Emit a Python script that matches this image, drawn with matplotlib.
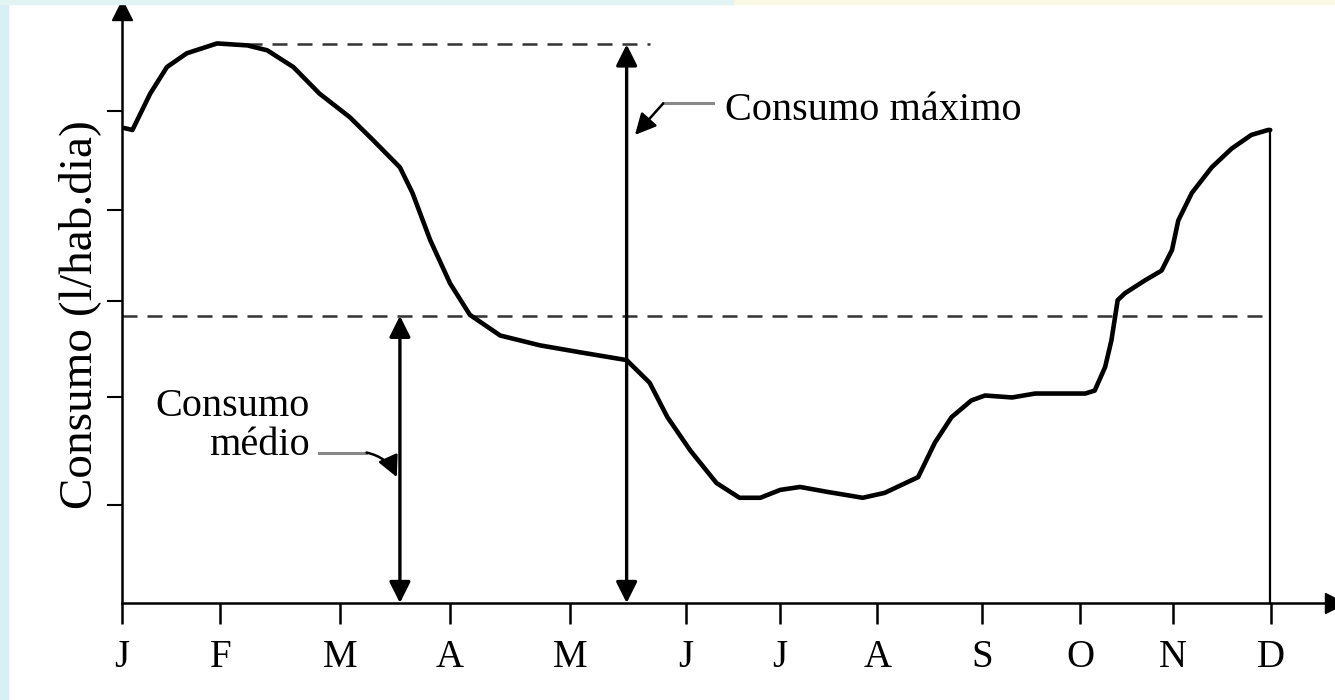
import matplotlib
matplotlib.use("Agg")
import matplotlib.pyplot as plt
from matplotlib.patches import Rectangle

plt.rcParams["font.family"] = ["Liberation Serif", "DejaVu Serif"]

# month tick positions (in month units) and labels
month_pos = [0.0, 0.94, 2.09, 3.14, 4.29, 5.40, 6.30, 7.23, 8.23, 9.17, 10.06, 11.0]
month_labels = ["J", "F", "M", "A", "M", "J", "J", "A", "S", "O", "N", "D"]
y_ticks = [1.0, 2.09, 3.07, 4.0, 5.0]

# consumption curve
curve_x = [0.02, 0.10, 0.27, 0.43, 0.62, 0.91, 1.20, 1.39, 1.64, 1.89, 2.18, 2.40,
           2.66, 2.78, 2.95, 3.14, 3.33, 3.62, 4.00, 4.38, 4.83, 5.05, 5.22, 5.44,
           5.69, 5.91, 6.11, 6.30, 6.49, 6.75, 7.09, 7.30, 7.62, 7.78, 7.94, 8.13,
           8.26, 8.52, 8.74, 9.22, 9.31, 9.41, 9.47, 9.53, 9.60, 9.79, 9.95, 10.05,
           10.11, 10.24, 10.43, 10.62, 10.81, 10.97, 10.99]
curve_y = [4.83, 4.81, 5.18, 5.45, 5.59, 5.69, 5.67, 5.62, 5.45, 5.18, 4.94, 4.71,
           4.43, 4.17, 3.69, 3.25, 2.93, 2.72, 2.62, 2.55, 2.47, 2.24, 1.89, 1.55,
           1.22, 1.07, 1.07, 1.15, 1.18, 1.13, 1.07, 1.12, 1.28, 1.63, 1.89, 2.06,
           2.11, 2.09, 2.13, 2.13, 2.16, 2.40, 2.67, 3.08, 3.15, 3.28, 3.38, 3.59,
           3.89, 4.17, 4.43, 4.62, 4.76, 4.81, 4.81]

mean_value = 2.92
max_value = 5.68
max_month = 4.83
mean_month = 2.66

fig = plt.figure(figsize=(13.35, 7.0), dpi=100)
fig.patches.append(Rectangle((0, 0), 8 / 1335, 1, transform=fig.transFigure,
                             color="#d8eff6", zorder=0))
fig.patches.append(Rectangle((0, 1 - 4 / 700), 0.55, 4 / 700, transform=fig.transFigure,
                             color="#e2f3f3", zorder=0))
fig.patches.append(Rectangle((0.55, 1 - 4 / 700), 0.45, 4 / 700, transform=fig.transFigure,
                             color="#f8f8e4", zorder=0))

ax = fig.add_axes([122 / 1335, 1 - 603 / 700, 1 - 122 / 1335, 593 / 700])
ax.set_xlim(0, 11.61)
ax.set_ylim(0, 6.03)
ax.patch.set_alpha(0)

for s in ["top", "right"]:
    ax.spines[s].set_visible(False)
ax.spines["left"].set_linewidth(1.8)
ax.spines["bottom"].set_linewidth(1.8)
ax.plot(1, 0, ">k", ms=14, transform=ax.transAxes, clip_on=False)
ax.plot(0, 1, "^k", ms=14, transform=ax.transAxes, clip_on=False)

ax.set_xticks(month_pos)
ax.set_xticklabels(month_labels, fontsize=28)
ax.set_yticks(y_ticks)
ax.set_yticklabels([])
ax.tick_params(axis="x", direction="out", length=15, width=1.8, pad=11)
ax.tick_params(axis="y", direction="out", length=11, width=1.5)

# the curve
ax.plot(curve_x, curve_y, color="black", lw=3.3, solid_capstyle="round",
        solid_joinstyle="round", zorder=3)
ax.plot([curve_x[-1], curve_x[-1]], [0, curve_y[-1]], color="black", lw=1.6)

# dashed reference lines
ax.plot([0, 10.97], [mean_value, mean_value], color="#333333", lw=1.8, dashes=(6, 4))
ax.plot([1.2, 5.05], [max_value, max_value], color="#333333", lw=1.8, dashes=(6, 4))

# double arrows
arrow_kw = dict(arrowstyle="<|-|>", color="black", lw=2.4, mutation_scale=32,
                shrinkA=0, shrinkB=0)
ax.annotate("", xy=(max_month, max_value), xytext=(max_month, 0), arrowprops=arrow_kw)
ax.annotate("", xy=(mean_month, mean_value), xytext=(mean_month, 0), arrowprops=arrow_kw)

# labels with leaders
ax.text(5.77, 5.01, "Consumo máximo", fontsize=29, ha="left", va="center")
ax.plot([5.18, 5.66], [5.08, 5.08], color="#888888", lw=2.2)
ax.annotate("", xy=(4.91, 4.76), xytext=(5.18, 5.08),
            arrowprops=dict(arrowstyle="-|>", color="black", lw=1.8,
                            mutation_scale=32, shrinkA=0, shrinkB=0))

ax.text(1.80, 1.80, "Consumo\nmédio", fontsize=29, ha="right", va="center",
        multialignment="right", linespacing=1.05)
ax.plot([1.89, 2.34], [1.53, 1.53], color="#888888", lw=2.2)
ax.annotate("", xy=(2.63, 1.28), xytext=(2.34, 1.53),
            arrowprops=dict(arrowstyle="-|>", color="black", lw=1.8,
                            mutation_scale=32, shrinkA=0, shrinkB=0,
                            connectionstyle="arc3,rad=-0.25"))

fig.text(80 / 1335, 1 - 315 / 700, "Consumo (l/hab.dia)", fontsize=34,
         rotation=90, ha="center", va="center")

fig.savefig("out.png", dpi=100)
plt.close(fig)
